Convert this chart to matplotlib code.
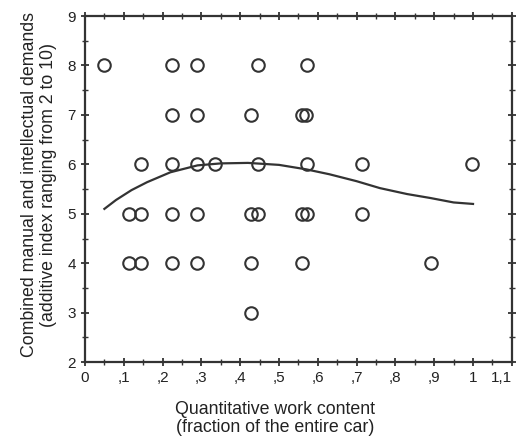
import matplotlib.pyplot as plt
from matplotlib.ticker import MultipleLocator

plt.rcParams['font.family'] = ['Liberation Sans', 'DejaVu Sans']

# observed cases: work content fraction vs. demands index
work_content = [0.049, 0.224, 0.288, 0.445, 0.571,
                0.224, 0.288, 0.427, 0.558, 0.569,
                0.144, 0.224, 0.288, 0.334, 0.445, 0.571, 0.715, 0.997,
                0.113, 0.144, 0.224, 0.288, 0.429, 0.447, 0.558, 0.571, 0.715,
                0.113, 0.144, 0.224, 0.288, 0.429, 0.558, 0.892,
                0.429]
demands = [8, 8, 8, 8, 8,
           7, 7, 7, 7, 7,
           6, 6, 6, 6, 6, 6, 6, 6,
           5, 5, 5, 5, 5, 5, 5, 5, 5,
           4, 4, 4, 4, 4, 4, 4,
           3]

# fitted curve
curve_x = [0.05, 0.08, 0.12, 0.16, 0.22, 0.29, 0.35, 0.42, 0.50, 0.57,
           0.63, 0.70, 0.76, 0.83, 0.89, 0.95, 1.0]
curve_y = [5.10, 5.28, 5.48, 5.64, 5.84, 5.98, 6.02, 6.03, 5.99, 5.90,
           5.80, 5.66, 5.52, 5.40, 5.32, 5.23, 5.20]

x_ticks = [0, 0.1, 0.2, 0.3, 0.4, 0.5, 0.6, 0.7, 0.8, 0.9, 1.0, 1.1]
x_labels = ["0", ",1", ",2", ",3", ",4", ",5", ",6", ",7", ",8", ",9", "1", "1,1"]
y_ticks = [2, 3, 4, 5, 6, 7, 8, 9]

fig = plt.figure(figsize=(5.17, 4.46), dpi=100)
ax = fig.add_axes([0.1644, 0.188, 0.8256, 0.776])

ax.plot(curve_x, curve_y, color="#333333", lw=1.6)
ax.plot(work_content, demands, "o", ms=9, mfc="none", mec="#333333", mew=1.5)

ax.set_xlim(0, 1.1)
ax.set_ylim(2, 9)
ax.set_xticks(x_ticks)
ax.set_xticklabels(x_labels)
ax.set_yticks(y_ticks)
ax.xaxis.set_minor_locator(MultipleLocator(0.05))
ax.yaxis.set_minor_locator(MultipleLocator(0.5))
ax.tick_params(which="both", direction="inout", top=True, right=True,
               color="#333333", labelsize=11, labelcolor="#222222")
ax.tick_params(which="major", length=6, width=1.3)
ax.tick_params(which="minor", length=4, width=1.0)
ax.get_xticklabels()[-1].set_ha("right")
for sp in ax.spines.values():
    sp.set_linewidth(1.6)
    sp.set_color("#333333")

ax.set_xlabel("Quantitative work content\n(fraction of the entire car)",
              fontsize=12.8, color="#222222", linespacing=1.1)
ax.xaxis.set_label_coords(0.445, -0.112)
ax.set_ylabel("Combined manual and intellectual demands\n(additive index ranging from 2 to 10)",
              fontsize=12.8, color="#222222", linespacing=1.15)
ax.yaxis.set_label_coords(-0.066, 0.512)

fig.savefig("out.png")
